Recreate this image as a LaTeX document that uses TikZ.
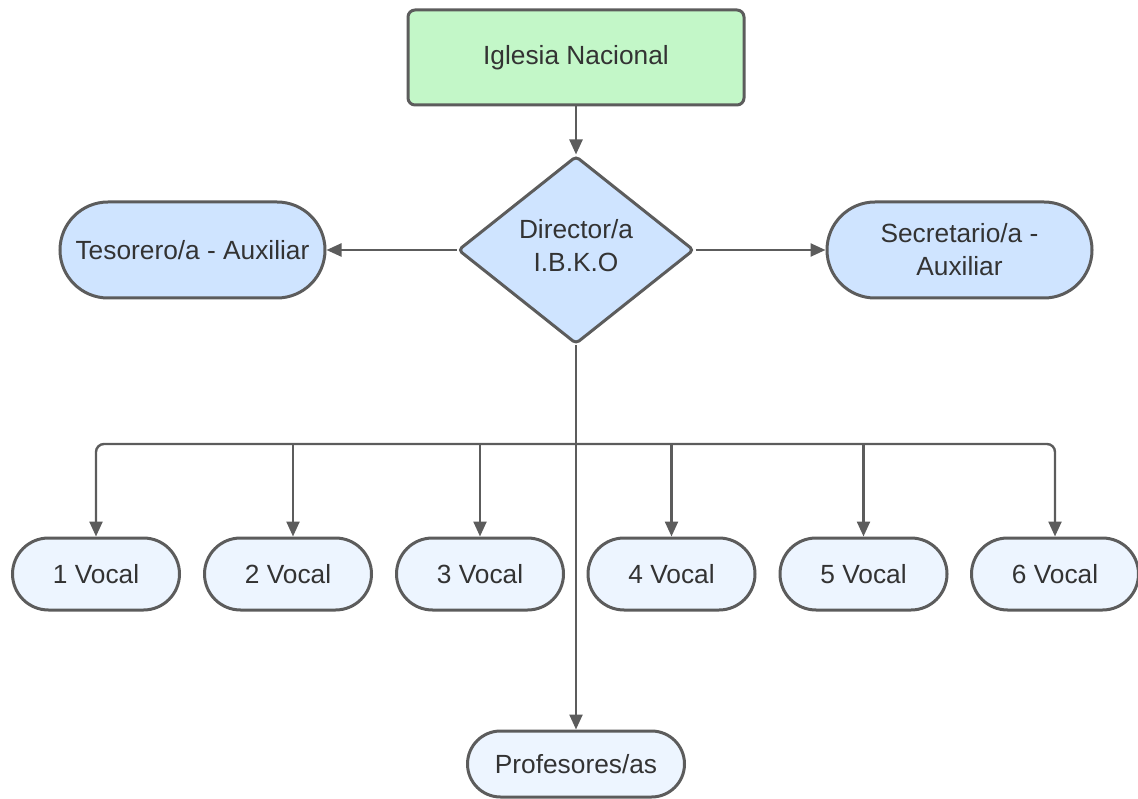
\documentclass[tikz,border=0pt]{standalone}
\usepackage{fontspec}
\setmainfont{Liberation Sans}
\usetikzlibrary{arrows.meta,shapes.geometric,shapes.misc}
\definecolor{edge}{HTML}{5C5C5C}
\definecolor{ink}{HTML}{333333}
\definecolor{topfill}{HTML}{C3F7C8}
\definecolor{midfill}{HTML}{CFE4FF}
\definecolor{lowfill}{HTML}{EDF5FF}
\begin{document}
\begin{tikzpicture}[x=1pt,y=-1pt,
  every node/.style={font=\fontsize{26.3}{33}\selectfont, text=ink, align=center},
  box/.style={draw=edge, line width=3pt, inner sep=0pt},
  topbox/.style={box, rectangle, rounded corners=7pt, fill=topfill, minimum width=336pt, minimum height=95pt},
  decision/.style={box, diamond, rounded corners=4pt, fill=midfill, minimum width=236pt, minimum height=188pt, aspect=1.255, text depth=9pt},
  rolebox/.style={box, rounded rectangle, fill=midfill, minimum width=265pt, minimum height=96pt},
  vocalbox/.style={box, rounded rectangle, fill=lowfill, minimum width=167pt, minimum height=72pt},
  profbox/.style={box, rounded rectangle, fill=lowfill, minimum width=217pt, minimum height=66pt},
  conn/.style={draw=edge, line width=2.4pt, -{Triangle[length=15pt,width=13pt]}},
  link/.style={draw=edge, line width=2.4pt}
]
\useasboundingbox (0,0) rectangle (1138,799);

\node[topbox] (igl) at (576,57.5) {Iglesia Nacional};
\node[decision] (dir) at (576,250) {Director/a\\I.B.K.O};
\node[rolebox] (tes) at (192.5,250) {Tesorero/a - Auxiliar};
\node[rolebox] (sec) at (959.5,250) {Secretario/a -\\Auxiliar};

\node[vocalbox] (v1) at (96,574) {1 Vocal};
\node[vocalbox] (v2) at (288,574) {2 Vocal};
\node[vocalbox] (v3) at (480,574) {3 Vocal};
\node[vocalbox] (v4) at (671.5,574) {4 Vocal};
\node[vocalbox] (v5) at (863.5,574) {5 Vocal};
\node[vocalbox] (v6) at (1055,574) {6 Vocal};

\node[profbox] (prof) at (576,764) {Profesores/as};

\coordinate (bus) at (576,444);

\draw[conn] (igl.south) -- (dir.north);
\draw[conn] (dir.west) -- (tes.east);
\draw[conn] (dir.east) -- (sec.west);
\draw[conn] (dir.south) -- (prof.north);

\draw[link] (dir.south) -- (bus);
\draw[conn, rounded corners=8pt] (bus) -| (v1.north);
\draw[conn, rounded corners=8pt] (bus) -| (v6.north);
\draw[conn] ([xshift=5pt]v2.north |- bus) -- ([xshift=5pt]v2.north);
\draw[conn] (v3.north |- bus) -- (v3.north);
\draw[conn] (v4.north |- bus) -- (v4.north);
\draw[conn] (v5.north |- bus) -- (v5.north);
\end{tikzpicture}
\end{document}
